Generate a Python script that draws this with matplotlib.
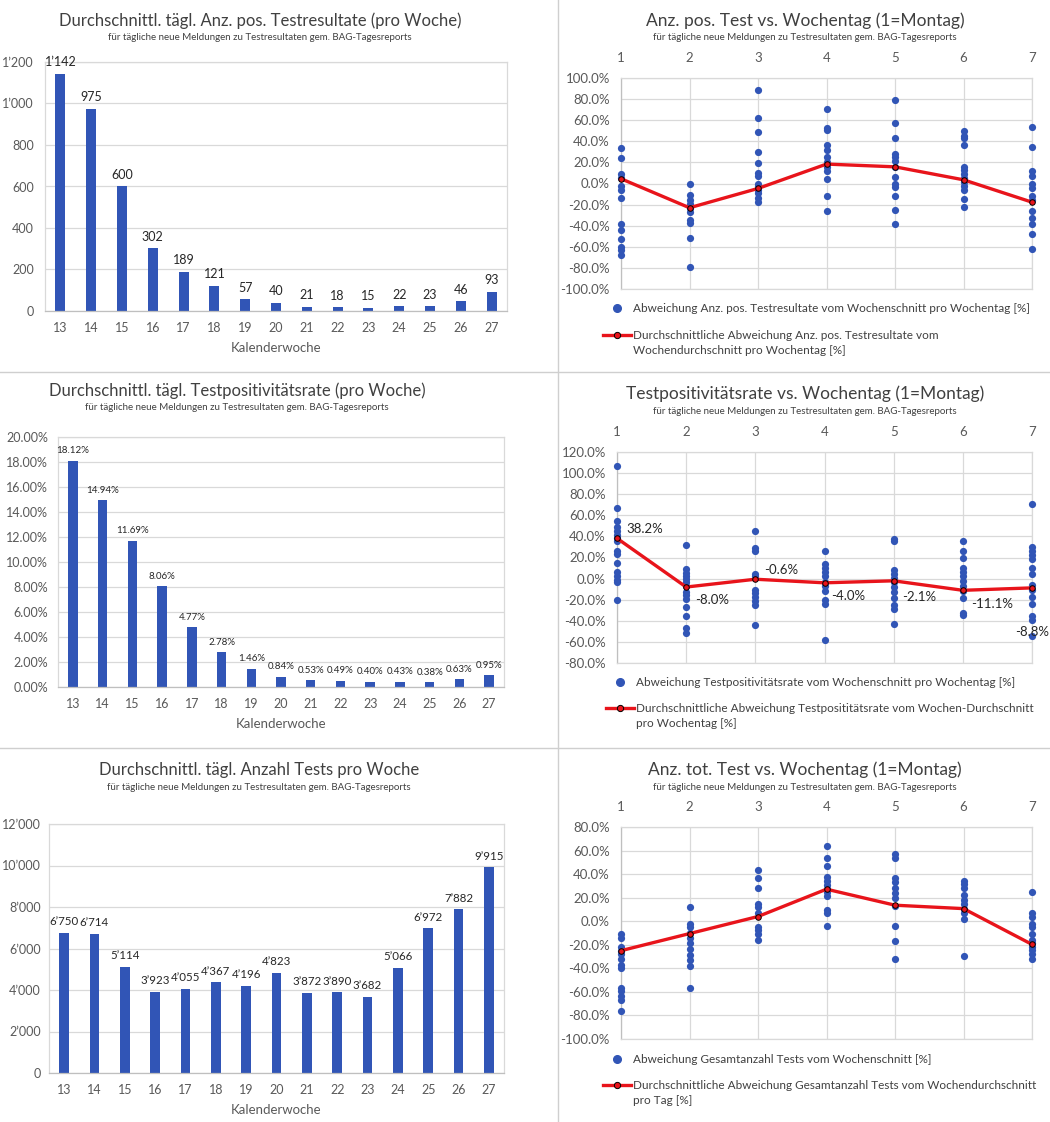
import matplotlib.pyplot as plt
import matplotlib as mpl
from matplotlib.lines import Line2D
from matplotlib.ticker import FuncFormatter, MultipleLocator

mpl.rcParams['font.family'] = ['Lato', 'DejaVu Sans']

# ---- data: weekly averages ----
weeks = [13, 14, 15, 16, 17, 18, 19, 20, 21, 22, 23, 24, 25, 26, 27]
pos_tests = [1142, 975, 600, 302, 189, 121, 57, 40, 21, 18, 15, 22, 23, 46, 93]
pos_rate = [18.12, 14.94, 11.69, 8.06, 4.77, 2.78, 1.46, 0.84, 0.53, 0.49, 0.40, 0.43, 0.38, 0.63, 0.95]
tot_tests = [6750, 6714, 5114, 3923, 4055, 4367, 4196, 4823, 3872, 3890, 3682, 5066, 6972, 7882, 9915]

# ---- data: deviation per weekday (%) ----
weekdays = [1, 2, 3, 4, 5, 6, 7]

pos_dev = [
    [33.2, 23.7, 8.9, 5.0, -2.8, -6.6, -14.2, -38.6, -44.3, -52.8, -60.4, -63.0, -67.4],
    [-0.6, -10.8, -15.5, -19.3, -23.4, -26.6, -34.5, -37.0, -51.6, -79.4],
    [88.3, 61.7, 48.4, 29.4, 19.0, 9.8, 7.3, -0.6, -2.8, -6.0, -9.2, -13.9, -17.1],
    [70.3, 52.8, 50.3, 36.4, 32.0, 25.0, 20.6, 16.1, 11.7, 4.7, -11.4, -25.6],
    [79.1, 57.0, 43.0, 27.8, 25.0, 20.9, 16.1, 6.6, -0.6, -3.5, -12.3, -25.3, -38.6],
    [50.0, 45.3, 43.0, 36.4, 16.1, 13.0, 9.2, 5.1, 1.0, -2.8, -6.6, -14.9, -22.5],
    [53.5, 34.5, 11.4, 7.3, -0.3, -4.4, -11.4, -15.5, -26.3, -32.9, -38.6, -48.1, -62.3],
]
pos_dev_mean = [4.5, -23.0, -4.7, 18.4, 15.8, 3.5, -17.7]

rate_dev = [
    [106.7, 66.8, 54.8, 48.5, 44.7, 41.5, 38.4, 35.2, 26.3, 23.2, 14.6, 5.8, 2.9, -1.1, -3.4, -20.5],
    [31.7, 8.9, 5.7, 2.9, -0.3, -3.4, -6.6, -12.3, -15.4, -19.2, -26.5, -35.4, -47.1, -51.8],
    [44.7, 28.9, 26.6, 4.8, 2.0, -10.7, -13.9, -17.0, -21.1, -24.9, -43.9],
    [25.7, 13.7, 10.5, 6.7, 2.0, -2.8, -6.6, -11.6, -20.5, -24.3, -58.5],
    [37.4, 35.2, 8.3, 4.5, 0.6, -3.4, -8.2, -12.9, -18.0, -24.9, -29.1, -43.3],
    [35.8, 25.7, 19.4, 9.9, 6.1, 2.0, -2.2, -6.6, -11.6, -18.0, -32.2, -34.4],
    [70.6, 30.4, 25.7, 22.5, 18.7, 10.5, 4.2, -5.9, -10.7, -17.0, -24.3, -35.1, -39.2, -54.4],
]
rate_dev_mean = [38.2, -8.0, -0.6, -4.0, -2.1, -11.1, -8.8]

tot_dev = [
    [-11.1, -14.5, -21.6, -25.1, -27.9, -32.4, -37.3, -39.5, -56.3, -59.1, -63.7, -67.1, -76.2],
    [12.4, -2.6, -4.6, -10.3, -14.5, -18.2, -23.9, -28.7, -33.0, -38.1, -56.6],
    [43.1, 37.1, 28.6, 14.7, 12.4, 6.7, -5.2, -7.4, -10.9, -16.0],
    [63.5, 53.6, 46.5, 37.4, 34.3, 30.9, 27.2, 24.4, 21.5, 9.6, 6.7, -3.8],
    [57.0, 53.3, 37.1, 32.9, 28.0, 23.8, 19.5, 13.0, -4.0, -16.5, -31.9],
    [34.3, 31.4, 28.0, 22.4, 18.1, 14.7, 10.2, 6.7, 1.6, -29.3],
    [24.4, 7.3, 3.9, -2.3, -4.6, -11.1, -16.0, -18.8, -22.2, -24.5, -27.9, -31.9],
]
tot_dev_mean = [-25.0, -10.5, 4.0, 27.2, 13.6, 10.7, -19.7]

SUB = "für tägliche neue Meldungen zu Testresultaten gem. BAG-Tagesreports"
BLUE = '#3155b6'
RED = '#e8141b'
GRID = '#d9d9d9'
TXT = '#404040'
TICK = '#595959'
LEG_FS = 8.5

W, H = 1050, 1122
fig = plt.figure(figsize=(W / 100, H / 100), dpi=100)
extra_lines = []


def px_rect(l, t, r, b):
    return [l / W, 1 - b / H, (r - l) / W, (b - t) / H]


def ftext(x, y, s, **kw):
    fig.text(x / W, 1 - y / H, s, ha='center', va='center', **kw)


def thousands(v, _=None):
    return f"{int(round(v)):,}".replace(",", "\u2019")


def style_box(ax):
    for sp in ax.spines.values():
        sp.set_color(GRID)
        sp.set_linewidth(0.9)
    ax.grid(axis='y', color=GRID, lw=0.9)
    ax.set_axisbelow(True)


def bar_panel(rect, title, tx, ty, sy, values, ymax, ystep, yfmt, labfmt, labsize, ypad):
    ax = fig.add_axes(rect)
    x = list(range(len(weeks)))
    bars = ax.bar(x, values, width=0.32, color=BLUE, zorder=2)
    ax.bar_label(bars, labels=[labfmt(v) for v in values], padding=4,
                 fontsize=labsize, color='#262626')
    ax.set_xlim(-0.5, len(weeks) - 0.5)
    ax.set_ylim(0, ymax)
    ax.yaxis.set_major_locator(MultipleLocator(ystep))
    ax.yaxis.set_major_formatter(FuncFormatter(yfmt))
    ax.set_xticks(x, [str(w) for w in weeks])
    ax.tick_params(axis='both', length=0, labelsize=9, colors=TICK)
    ax.tick_params(axis='y', pad=ypad)
    ax.tick_params(axis='x', pad=8)
    ax.set_xlabel('Kalenderwoche', fontsize=9.5, color=TICK, labelpad=6)
    style_box(ax)
    ax.spines['bottom'].set_color('#bfbfbf')
    ftext(tx, ty, title, fontsize=12, color=TXT)
    ftext(tx, sy, SUB, fontsize=7, color=TXT)
    return ax


def dev_panel(rect, title, ty, sy, pts, means, ylim, lab1, lab2, lab3, anchor):
    ax = fig.add_axes(rect)
    for d, vals in zip(weekdays, pts):
        ax.scatter([d] * len(vals), vals, s=27, color=BLUE, linewidths=0, zorder=3, clip_on=False)
    ax.plot(weekdays, means, color=RED, lw=2.4, marker='o', ms=4, mfc=RED, mec='black',
            mew=0.7, zorder=4, clip_on=False)
    ax.set_xlim(1, 7)
    ax.set_ylim(*ylim)
    ax.set_xticks(weekdays)
    ax.yaxis.set_major_locator(MultipleLocator(20))
    ax.yaxis.set_major_formatter(FuncFormatter(lambda v, _: f"{v:.1f}%"))
    ax.xaxis.tick_top()
    ax.tick_params(axis='both', length=0, labelsize=9.5, colors=TICK)
    ax.tick_params(axis='x', pad=10)
    ax.tick_params(axis='y', pad=8)
    ax.grid(axis='both', color=GRID, lw=0.9)
    ax.set_axisbelow(True)
    for sp in ax.spines.values():
        sp.set_color(GRID)
        sp.set_linewidth(0.9)
    ax.spines['left'].set_color('#bfbfbf')
    handles = [
        Line2D([], [], ls='none', marker='o', color=BLUE, ms=5.5),
        Line2D([], [], color=RED, lw=2.4, marker='o', ms=4.5, mfc=RED, mec='black', mew=0.7),
    ]
    leg = ax.legend(handles, [lab1, lab2], loc='upper left', bbox_to_anchor=anchor, frameon=False,
                    borderpad=0, borderaxespad=0, fontsize=LEG_FS, labelspacing=1.3,
                    handlelength=2.4, handletextpad=0.15, labelcolor=TXT)
    extra_lines.append((leg, lab3))
    ftext(805, ty, title, fontsize=12.5, color=TXT)
    ftext(805, sy, SUB, fontsize=7, color=TXT)
    return ax


# ---- left column ----
bar_panel(px_rect(45, 62, 507, 311), "Durchschnittl. tägl. Anz. pos. Testresultate (pro Woche)",
          260, 21, 38, pos_tests, 1200, 200, thousands, thousands, 9, 8)
bar_panel(px_rect(58, 437, 504, 687), "Durchschnittl. tägl. Testpositivitätsrate (pro Woche)",
          237, 391, 408, pos_rate, 20, 2, lambda v, _: f"{v:.2f}%", lambda v: f"{v:.2f}%", 7, 7)
bar_panel(px_rect(49, 824, 504, 1073), "Durchschnittl. tägl. Anzahl Tests pro Woche",
          259, 770, 787, tot_tests, 12000, 2000, thousands, thousands, 8.3, 6)

# ---- right column ----
dev_panel(px_rect(621, 78, 1032, 289), "Anz. pos. Test vs. Wochentag (1=Montag)", 21, 37,
          pos_dev, pos_dev_mean, (-100, 100),
          "Abweichung Anz. pos. Testresultate vom Wochenschnitt pro Wochentag [%]",
          "Durchschnittliche Abweichung Anz. pos. Testresultate vom",
          "Wochendurchschnitt pro Wochentag [%]",
          (-0.044, -0.068))

ax5 = dev_panel(px_rect(617, 452, 1032, 663), "Testpositivitätsrate vs. Wochentag (1=Montag)", 394, 411,
                rate_dev, rate_dev_mean, (-80, 120),
                "Abweichung Testpositivitätsrate vom Wochenschnitt pro Wochentag [%]",
                "Durchschnittliche Abweichung Testposititätsrate vom Wochen-Durchschnitt",
                "pro Wochentag [%]",
                (-0.027, -0.066))
label_offsets = [(7, 7), (6.5, -9.5), (6, 6.5), (5, -9.5), (6, -12), (6, -9.5), (0, -32)]
for d, m, off in zip(weekdays, rate_dev_mean, label_offsets):
    ax5.annotate(f"{m:.1f}%", (d, m), xytext=off, textcoords='offset points',
                 ha='center' if off[0] == 0 else 'left', va='center', fontsize=9.5, color='#262626',
                 annotation_clip=False)

dev_panel(px_rect(621, 827, 1032, 1039), "Anz. tot. Test vs. Wochentag (1=Montag)", 770, 787,
          tot_dev, tot_dev_mean, (-100, 80),
          "Abweichung Gesamtanzahl Tests vom Wochenschnitt [%]",
          "Durchschnittliche Abweichung Gesamtanzahl Tests vom Wochendurchschnitt",
          "pro Tag [%]",
          (-0.044, -0.07))

# second line of the line-legend label, placed under its first line
fig.canvas.draw()
for leg, txt in extra_lines:
    bb = leg.get_texts()[1].get_window_extent()
    fig.text(bb.x0 / W, (bb.y0 - 15) / H, txt, ha='left', va='bottom',
             fontsize=LEG_FS, color=TXT)

# ---- panel separators ----
SEP = '#cfcfcf'
fig.add_artist(Line2D([558 / W, 558 / W], [0, 1], color=SEP, lw=1))
for yy in (372, 748):
    fig.add_artist(Line2D([0, 1], [1 - yy / H, 1 - yy / H], color=SEP, lw=1))

fig.savefig('out.png', dpi=100, facecolor='white')
